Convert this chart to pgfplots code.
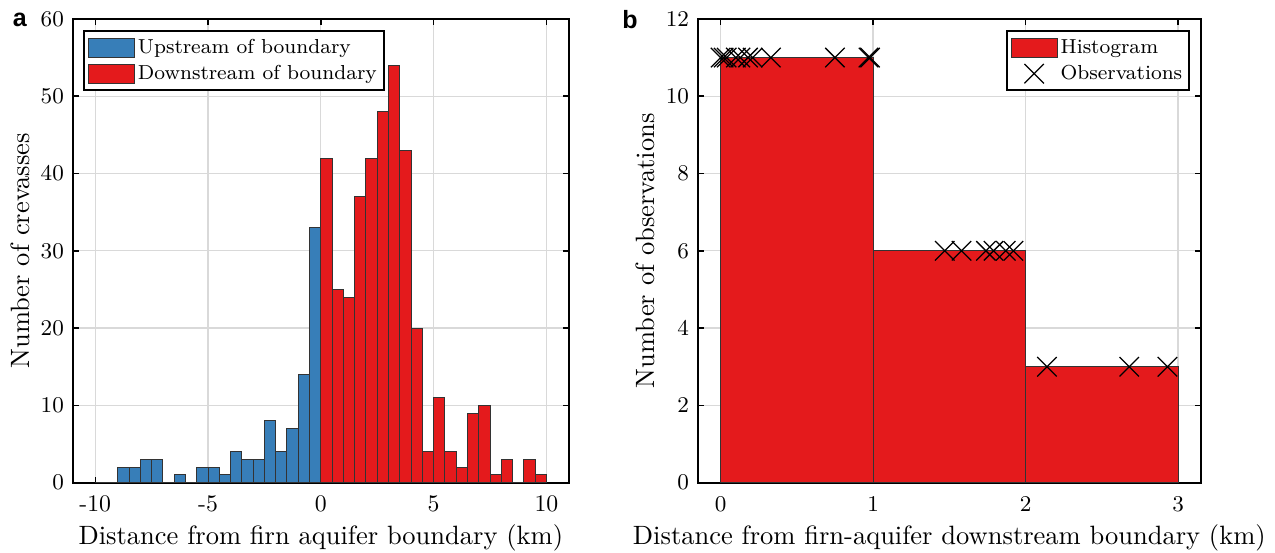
\documentclass[border=0pt]{standalone}
\usepackage{fontspec}
\usepackage{pgfplots}
\pgfplotsset{compat=1.18}
\newfontfamily\panelfont{Liberation Sans}
\definecolor{upblue}{RGB}{55,126,184}
\definecolor{downred}{RGB}{228,26,28}
\pgfplotsset{
  common/.style={
    scale only axis, height=185.5pt,
    tick align=inside, xtick pos=both, ytick pos=both,
    major tick length=2.4pt,
    every tick/.style={black, line width=0.6pt},
    grid=major, major grid style={black!15, line width=0.5pt},
    axis line style={line width=0.75pt},
    tick label style={font=\fontsize{9.5}{11}\selectfont},
    xticklabel style={anchor=base, yshift=-11.4pt},
    label style={font=\fontsize{10.6}{12}\selectfont},
    xlabel style={at={(axis description cs:0.5,0)}, anchor=base, yshift=-24.8pt},
    ylabel style={at={([xshift=-17.1pt]axis description cs:0,0.5)}, rotate=0, anchor=base},
    legend cell align=left,
    legend style={draw=black, line width=0.8pt, font=\fontsize{8.1}{10}\selectfont,
      inner xsep=1.5pt, inner ysep=1.3pt, column sep=0pt,
      nodes={inner sep=1.2pt, text height=6.2pt, text depth=1.8pt}},
  },
  barleg/.style={legend image code/.code={\draw[##1, draw=black!80, line width=0.4pt] (0pt,-3.8pt) rectangle (18.4pt,3.8pt);}},
  obsleg/.style={legend image code/.code={\draw[mark repeat=1,##1] plot coordinates {(9.2pt,0pt)};}},
}
\begin{document}
\begin{tikzpicture}
\path[use as bounding box] (-29.08pt,-28.12pt) rectangle (480.92pt,193.08pt);
\begin{axis}[common,
  at={(0pt,0pt)}, anchor=south west, width=198.5pt,
  xmin=-11, xmax=11, ymin=0, ymax=60,
  xtick={-10,-5,0,5,10}, xticklabels={-10,-5,0,5,10}, ytick={0,10,...,60},
  xlabel={Distance from firn aquifer boundary (km)},
  ylabel={Number of crevasses},
  legend style={at={(rel axis cs:0,1)}, anchor=north west, xshift=4.2pt, yshift=-4.6pt},
]
\addplot[ybar interval, fill=upblue, draw=black!80, line width=0.4pt, barleg] coordinates {
(-10,0) (-9.5,0) (-9,2) (-8.5,2) (-8,3) (-7.5,3) (-7,0) (-6.5,1) (-6,0) (-5.5,2)
(-5,2) (-4.5,1) (-4,4) (-3.5,3) (-3,3) (-2.5,8) (-2,4) (-1.5,7) (-1,14) (-0.5,33) (0,33)};
\addlegendentry{Upstream of boundary}
\addplot[ybar interval, fill=downred, draw=black!80, line width=0.4pt, barleg] coordinates {
(0,42) (0.5,25) (1,24) (1.5,37) (2,42) (2.5,48) (3,54) (3.5,43) (4,20) (4.5,4)
(5,11) (5.5,4) (6,2) (6.5,9) (7,10) (7.5,1) (8,3) (8.5,0) (9,3) (9.5,1) (10,1)};
\addlegendentry{Downstream of boundary}
\end{axis}
\begin{axis}[common,
  at={(250pt,0pt)}, anchor=south west, width=201.3pt,
  xmin=-0.15, xmax=3.15, ymin=0, ymax=12,
  xtick={0,1,2,3}, ytick={0,2,...,12},
  xlabel={Distance from firn-aquifer downstream boundary (km)},
  ylabel={Number of observations},
  legend style={at={(rel axis cs:1,1)}, anchor=north east, xshift=-4.4pt, yshift=-4.6pt},
]
\addplot[ybar interval, fill=downred, draw=black!80, line width=0.4pt, barleg] coordinates {
(0,11) (1,6) (2,3) (3,3)};
\addlegendentry{Histogram}
\addplot[only marks, mark=x, mark size=5.5pt, black, line width=0.5pt, obsleg] coordinates {
(0.00,11) (0.02,11) (0.04,11) (0.10,11) (0.13,11) (0.18,11) (0.21,11) (0.33,11) (0.75,11) (0.97,11) (0.98,11)
(1.47,6) (1.58,6) (1.74,6) (1.79,6) (1.87,6) (1.92,6)
(2.14,3) (2.68,3) (2.93,3)};
\addlegendentry{Observations}
\end{axis}
\node[font=\panelfont\bfseries\fontsize{10}{12}\selectfont] at (-21.1pt,185.1pt) {a};
\node[font=\panelfont\bfseries\fontsize{10}{12}\selectfont] at (222.9pt,185.1pt) {b};
\end{tikzpicture}
\end{document}
